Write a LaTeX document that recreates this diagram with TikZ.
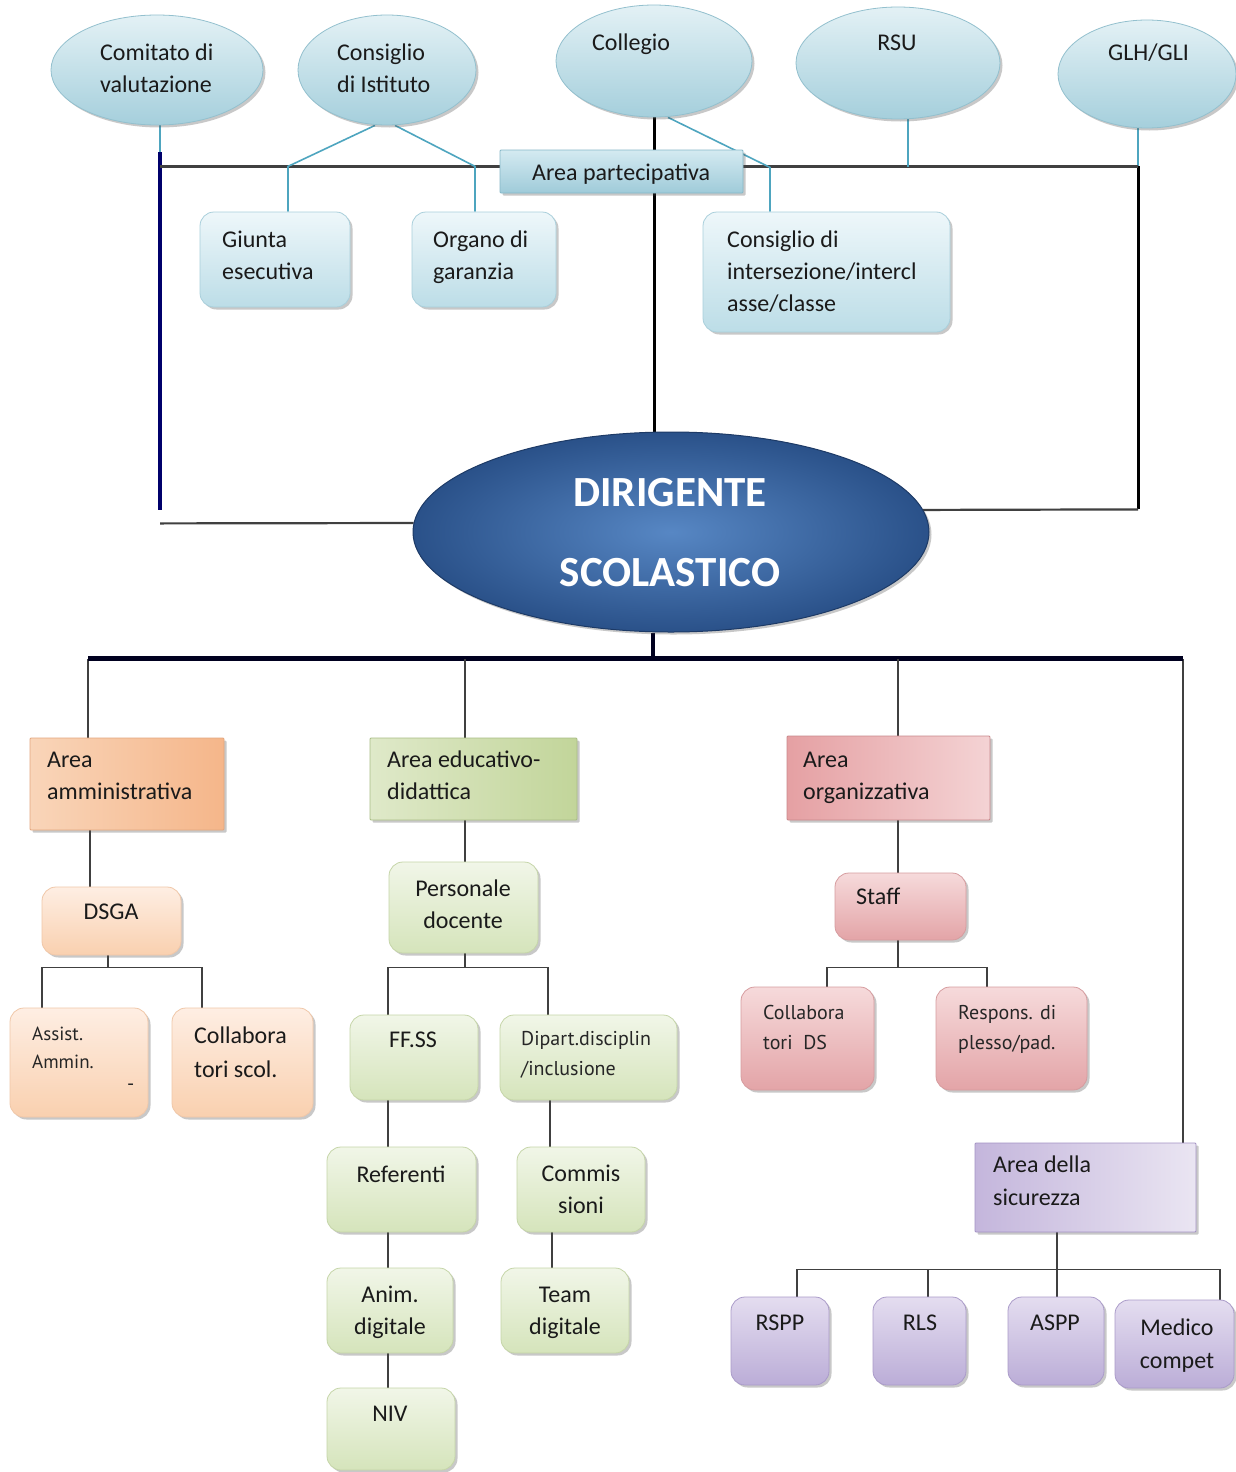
\documentclass[tikz,border=0pt]{standalone}
\usepackage{fontspec}
\setmainfont{Carlito}
\newfontfamily\smallf{PT Sans}
\usetikzlibrary{shapes.geometric,shadows,calc,backgrounds}
\pgfdeclarelayer{bgzero}
\pgfsetlayers{bgzero,background,main}
\definecolor{txtc}{HTML}{1A1A1A}
\definecolor{ellT}{HTML}{E3F1F5}\definecolor{ellB}{HTML}{A5CFDC}\definecolor{ellD}{HTML}{93C0CE}
\definecolor{bluT}{HTML}{EEF7FA}\definecolor{bluB}{HTML}{BCDDE7}\definecolor{bluD}{HTML}{A9CFDB}
\definecolor{parT}{HTML}{D4EAF1}\definecolor{parB}{HTML}{9FCBD9}\definecolor{parD}{HTML}{86B8C8}
\definecolor{amL}{HTML}{F9D5B9}\definecolor{amR}{HTML}{F5B68A}\definecolor{amD}{HTML}{E3A77E}
\definecolor{orT}{HTML}{FEEEE3}\definecolor{orB}{HTML}{F9D0AF}\definecolor{orD}{HTML}{F0C7A8}
\definecolor{edL}{HTML}{DFE9C9}\definecolor{edR}{HTML}{C2D59A}\definecolor{edD}{HTML}{A9BD85}
\definecolor{grT}{HTML}{F1F6E8}\definecolor{grB}{HTML}{D5E4BB}\definecolor{grD}{HTML}{C5D5A8}
\definecolor{ogL}{HTML}{E5A0A3}\definecolor{ogR}{HTML}{F4D3D4}\definecolor{ogD}{HTML}{C9888B}
\definecolor{pkT}{HTML}{F6DADB}\definecolor{pkB}{HTML}{E3A4A7}\definecolor{pkD}{HTML}{D69C9F}
\definecolor{sgL}{HTML}{C4B6DC}\definecolor{sgR}{HTML}{EAE5F2}\definecolor{sgD}{HTML}{A493C4}
\definecolor{puT}{HTML}{E4DDF0}\definecolor{puB}{HTML}{BBADD7}\definecolor{puD}{HTML}{AA9BC9}
\definecolor{dsI}{HTML}{5787C4}\definecolor{dsO}{HTML}{2A5189}\definecolor{dsD}{HTML}{1D3A66}
\definecolor{tealc}{HTML}{4EA5BF}
\newcommand\bx[6]{\node[#2, minimum width={#5-#3}, minimum height={#6-#4}] (#1) at ({(#3+#5)/2},{(#4+#6)/2}) {};}
\newcommand\tx[5]{\node[txt,#2] (#1) at (#3,{#4-15}) {\strut #5};}
\begin{document}
\begin{tikzpicture}[x=1pt,y=-1pt,
  shad/.style={drop shadow={opacity=0.3, shadow xshift=2.5pt, shadow yshift=-2.5pt, fill=black!70}},
  ell/.style={ellipse, inner sep=0, draw=ellD, line width=0.8pt, top color=ellT, bottom color=ellB, shad},
  rbox/.style={rounded corners=14pt, inner sep=0, line width=0.8pt, shad},
  sbox/.style={rounded corners=1pt, inner sep=0, line width=0.8pt, shad},
  blubox/.style={rbox, draw=bluD, top color=bluT, bottom color=bluB},
  parbox/.style={sbox, draw=parD, top color=parT, bottom color=parB},
  ambox/.style={sbox, draw=amD, left color=amL, right color=amR},
  orbox/.style={rbox, draw=orD, top color=orT, bottom color=orB},
  edbox/.style={sbox, draw=edD, left color=edL, right color=edR},
  grbox/.style={rbox, draw=grD, top color=grT, bottom color=grB},
  ogbox/.style={sbox, draw=ogD, left color=ogL, right color=ogR},
  pkbox/.style={rbox, draw=pkD, top color=pkT, bottom color=pkB},
  sgbox/.style={sbox, draw=sgD, left color=sgL, right color=sgR},
  pubox/.style={rbox, draw=puD, top color=puT, bottom color=puB},
  txt/.style={inner sep=0, anchor=north west, align=left, text=txtc, font=\fontsize{24}{32}\selectfont},
  ctr/.style={anchor=north, align=center},
  sm/.style={font=\smallf\fontsize{20}{30}\selectfont, text=black!85},
  tl/.style={draw=tealc, line width=1.6pt},
  dk/.style={draw=black!75, line width=2.2pt},
  navy/.style={draw=black!40!blue!70!black, line width=3.5pt},
  blk/.style={draw=black, line width=3pt},
  bus/.style={draw=black!70!blue!40!black, line width=4.5pt},
  ln/.style={draw=black!75, line width=1.6pt}
]
\begin{pgfonlayer}{bgzero}
\fill[white] (0,0) rectangle (1236,1472);
\end{pgfonlayer}
\useasboundingbox (0,0) rectangle (1236,1472);

% top ellipses
\node[ell, minimum width=212, minimum height=110] (com) at (157,70) {};
\node[ell, minimum width=178, minimum height=110] (cons) at (387,70) {};
\node[ell, minimum width=196, minimum height=112] (col) at (654,61) {};
\node[ell, minimum width=204, minimum height=112] (rsu) at (898,63) {};
\node[ell, minimum width=178, minimum height=108] (glh) at (1147,74) {};
\tx{tcom}{}{100}{53}{Comitato di\\valutazione}
\tx{tcons}{}{337}{53}{Consiglio\\di Istituto}
\tx{tcol}{}{592}{43}{Collegio}
\tx{trsu}{ctr}{897}{43}{RSU}
\tx{tglh}{}{1108}{53}{GLH/GLI}

% participative area
\bx{part}{parbox}{500}{150}{743}{193}
\tx{tpart}{}{532}{173}{Area partecipativa}
\bx{giunta}{blubox}{200}{212}{350}{307}
\tx{tgiunta}{}{222}{240}{Giunta\\esecutiva}
\bx{organo}{blubox}{412}{212}{556}{307}
\tx{torgano}{}{433}{240}{Organo di\\garanzia}
\bx{inter}{blubox}{703}{212}{950}{332}
\tx{tinter}{}{727}{240}{Consiglio di\\intersezione/intercl\\asse/classe}

% dirigente
\node[ellipse, inner sep=0, minimum width=516, minimum height=200, draw=dsD, line width=1pt,
  inner color=dsI, outer color=dsO, shad] (ds) at (671,532) {};
\node[inner sep=0, anchor=north, align=center, text=white,
  font=\bfseries\fontsize{43}{80}\selectfont] (tds) at (670,450) {\strut DIRIGENTE\\SCOLASTICO};

% amministrativa
\bx{amm}{ambox}{30}{738}{224}{830}
\tx{tamm}{}{47}{760}{Area\\amministrativa}
\bx{dsga}{orbox}{42}{887}{181}{955}
\tx{tdsga}{ctr}{111}{912}{DSGA}
\bx{assist}{orbox}{10}{1008}{148}{1117}
\tx{tassist}{sm, font=\smallf\fontsize{19}{28}\selectfont}{32}{1036}{Assist.\\Ammin.}
\tx{tdash}{sm}{127}{1084}{-}
\bx{collsc}{orbox}{172}{1008}{313}{1117}
\tx{tcollsc}{font=\fontsize{24}{34}\selectfont}{194}{1034}{Collabora\\tori scol.}

% educativo
\bx{edu}{edbox}{370}{738}{577}{820}
\tx{tedu}{}{387}{760}{Area educativo-\\didattica}
\bx{pers}{grbox}{389}{862}{538}{953}
\tx{tpers}{ctr}{463}{889}{Personale\\docente}
\bx{ffss}{grbox}{350}{1015}{478}{1100}
\tx{tffss}{ctr}{413}{1040}{FF.SS}
\bx{dip}{grbox}{500}{1015}{677}{1100}
\tx{tdip}{sm}{521}{1039}{Dipart.disciplin\\/inclusione}
\bx{ref}{grbox}{327}{1147}{476}{1232}
\tx{tref}{ctr}{401}{1175}{Referenti}
\bx{comm}{grbox}{517}{1147}{645}{1232}
\tx{tcomm}{ctr}{581}{1174}{Commis\\sioni}
\bx{anim}{grbox}{327}{1268}{453}{1353}
\tx{tanim}{ctr}{390}{1295}{Anim.\\digitale}
\bx{team}{grbox}{501}{1268}{629}{1353}
\tx{tteam}{ctr}{565}{1295}{Team\\digitale}
\bx{niv}{grbox}{327}{1388}{455}{1470}
\tx{tniv}{ctr}{390}{1414}{NIV}

% organizzativa
\bx{org}{ogbox}{787}{736}{990}{820}
\tx{torg}{}{803}{760}{Area\\organizzativa}
\bx{staff}{pkbox}{835}{873}{966}{940}
\tx{tstaff}{}{856}{897}{Staff}
\bx{collds}{pkbox}{741}{987}{874}{1090}
\tx{tcollds}{sm}{763}{1013}{Collabora\\tori~~DS}
\bx{resp}{pkbox}{936}{987}{1087}{1090}
\tx{tresp}{sm}{958}{1013}{Respons. di\\plesso/pad.}

% sicurezza
\bx{sic}{sgbox}{975}{1143}{1196}{1232}
\tx{tsic}{font=\fontsize{24}{33}\selectfont}{993}{1164}{Area della\\sicurezza}
\bx{rspp}{pubox}{731}{1297}{829}{1385}
\tx{trspp}{ctr}{780}{1323}{RSPP}
\bx{rls}{pubox}{873}{1297}{966}{1385}
\tx{trls}{ctr}{920}{1323}{RLS}
\bx{aspp}{pubox}{1008}{1297}{1104}{1385}
\tx{taspp}{ctr}{1055}{1323}{ASPP}
\bx{medico}{pubox}{1115}{1300}{1234}{1388}
\tx{tmedico}{ctr, font=\fontsize{24}{33}\selectfont}{1177}{1327}{Medico\\compet}

\begin{pgfonlayer}{background}
% top connectors
\draw[tl] ([xshift=3pt]com.south) -- ++(0,27) coordinate (cL1);
\draw[navy] (cL1) -- ++(0,358) coordinate (cL2);
\draw[dk] ($(cL2)+(0,13)$) -- (ds.178);
\draw[tl] ([xshift=-9pt]glh.south) -- ++(0,38) coordinate (cR1);
\draw[blk] (cR1) -- ++(0,343) coordinate (cR2);
\draw[dk] (cR2) -- (ds.5);
\draw[dk] ($(cL1)+(0,14)$) -- (cR1);
\draw[tl] ([xshift=-12pt]cons.south) -- ++(-87,41) coordinate (jg) -- (jg |- giunta.north);
\draw[tl] ([xshift=8pt]cons.south) -- ++(80,41) coordinate (jo) -- (jo |- organo.north);
\draw[blk] (col.south) coordinate (jc) -- (jc |- ds.north);
\draw[tl] ([xshift=14pt]col.south) -- ++(102,50) coordinate (ji) -- (ji |- inter.north);
\draw[tl] ([xshift=10pt]rsu.south) -- ++(0,48);
% bus
\draw[bus] ([xshift=-18pt]ds.south) -- ++(0,27);
\draw[ln] ([xshift=-39pt]amm.north) -- ++(0,-79) coordinate (bl);
\draw[ln] ([xshift=97.5pt]sic.north) -- ++(0,-484) coordinate (br);
\draw[bus] (bl) -- (br);
\draw[ln] ([xshift=-8.5pt]edu.north) -- ++(0,-79);
\draw[ln] ([xshift=9.5pt]org.north) -- ++(0,-77);
% amministrativa tree
\draw[ln] ([xshift=-37pt]amm.south) coordinate (ja) -- (ja |- dsga.north);
\draw[ln] ([xshift=-3.5pt]dsga.south) -- ++(0,13);
\draw[ln] ([xshift=-37pt]assist.north) -- ++(0,-40) -| ([xshift=-40.5pt]collsc.north);
% educativo tree
\draw[ln] ([xshift=-8.5pt]edu.south) coordinate (je) -- (je |- pers.north);
\draw[ln] ([xshift=1.5pt]pers.south) -- ++(0,15);
\draw[ln] ([xshift=-26pt]ffss.north) -- ++(0,-47) -| ([xshift=-40.5pt]dip.north);
\draw[ln] ([xshift=-26pt]ffss.south) coordinate (jf) -- (jf |- ref.north);
\draw[ln] ([xshift=-38.5pt]dip.south) coordinate (jd) -- (jd |- comm.north);
\draw[ln] ([xshift=-13.5pt]ref.south) coordinate (jr) -- (jr |- anim.north);
\draw[ln] ([xshift=-29pt]comm.south) coordinate (jm) -- (jm |- team.north);
\draw[ln] ([xshift=-2pt]anim.south) coordinate (jn) -- (jn |- niv.north);
% organizzativa tree
\draw[ln] ([xshift=9.5pt]org.south) coordinate (jo2) -- (jo2 |- staff.north);
\draw[ln] ([xshift=-2.5pt]staff.south) -- ++(0,28);
\draw[ln] ([xshift=19.5pt]collds.north) -- ++(0,-19) -| ([xshift=-24.5pt]resp.north);
% sicurezza tree
\draw[ln] ([xshift=-28.5pt]sic.south) -- ++(0,38);
\draw[ln] ([xshift=17pt]rspp.north) -- ++(0,-27) -| ([xshift=45.5pt]medico.north);
\draw[ln] ([xshift=8.5pt]rls.north) -- ++(0,-27);
\draw[ln] ([xshift=1pt]aspp.north) -- ++(0,-27);
\end{pgfonlayer}
\end{tikzpicture}
\end{document}
